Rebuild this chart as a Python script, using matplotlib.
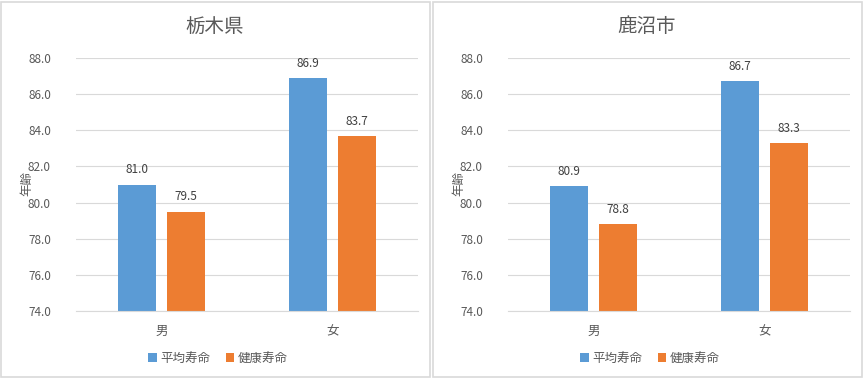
import matplotlib
matplotlib.use("Agg")
import matplotlib.pyplot as plt
import matplotlib.patches as mpatches
import numpy as np

plt.rcParams["font.family"] = ["Noto Sans CJK JP", "DejaVu Sans"]

# ── DATA ─────────────────────────────────────────────────────────────────────
categories = ["男", "女"]
series_names = ["平均寿命", "健康寿命"]
titles = ["栃木県", "鹿沼市"]
tochigi_avg = [81.0, 86.9]
tochigi_healthy = [79.5, 83.7]
kanuma_avg = [80.9, 86.7]
kanuma_healthy = [78.8, 83.3]
yticks = [74.0, 76.0, 78.0, 80.0, 82.0, 84.0, 86.0, 88.0]

BLUE = "#5B9BD5"
ORANGE = "#ED7D31"
GRID = "#D9D9D9"
TEXT = "#595959"

W, H = 864, 378
fig = plt.figure(figsize=(W / 100, H / 100), dpi=100)


def px_axes(x0, y_top, x1, y_bot):
    return fig.add_axes([x0 / W, 1 - y_bot / H, (x1 - x0) / W, (y_bot - y_top) / H])


panels = [(titles[0], tochigi_avg, tochigi_healthy, 0),
          (titles[1], kanuma_avg, kanuma_healthy, 432)]

for title, avg, healthy, off in panels:
    # panel border
    fig.patches.append(mpatches.Rectangle(((off + 1) / W, 1 / H), 429 / W, 375 / H,
                                          transform=fig.transFigure, fill=False,
                                          edgecolor=GRID, linewidth=1.2))
    ax = px_axes(off + 76, 58, off + 418, 311)
    x = np.arange(len(categories))
    w = 0.225
    b1 = ax.bar(x - 0.142, np.array(avg) - 74, w, bottom=74, color=BLUE, label=series_names[0])
    b2 = ax.bar(x + 0.142, np.array(healthy) - 74, w, bottom=74, color=ORANGE, label=series_names[1])
    for bars, vals in ((b1, avg), (b2, healthy)):
        for r, v in zip(bars, vals):
            ax.text(r.get_x() + r.get_width() / 2, v + 0.45, f"{v:.1f}",
                    ha="center", va="bottom", fontsize=8.5, color="#404040")
    ax.set_xlim(-0.5, 1.5)
    ax.set_ylim(74, 88)
    ax.set_yticks(yticks)
    ax.set_yticklabels([f"{t:.1f}" for t in yticks], fontsize=8.5, color=TEXT)
    ax.set_xticks(x)
    ax.set_xticklabels(categories, fontsize=9, color=TEXT)
    ax.tick_params(length=0, axis="y", pad=18)
    ax.tick_params(length=0, axis="x", pad=10)
    ax.grid(axis="y", color=GRID, linewidth=0.8)
    ax.set_axisbelow(True)
    for s in ("top", "right", "left"):
        ax.spines[s].set_visible(False)
    ax.spines["bottom"].set_color(GRID)
    ax.spines["bottom"].set_linewidth(0.8)
    fig.text((off + 27) / W, 1 - 183 / H, "年齢", rotation=90, ha="center", va="center",
             fontsize=9, color=TEXT)
    fig.text((off + 215) / W, 1 - 27 / H, title, ha="center", va="center",
             fontsize=14, color=TEXT)
    fig.legend(handles=[b1, b2], labels=series_names, loc="center",
               bbox_to_anchor=((off + 218) / W, 1 - 358 / H), ncol=2, frameon=False,
               fontsize=9, labelcolor=TEXT, handlelength=0.7, handleheight=0.7,
               handletextpad=0.3, columnspacing=1.2)

fig.savefig("out.png", dpi=100)
